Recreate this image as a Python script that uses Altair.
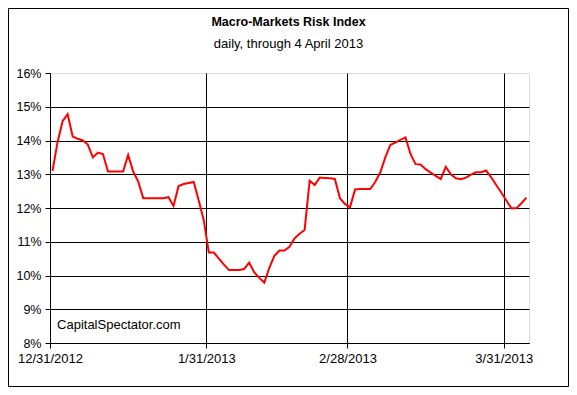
import altair as alt
import pandas as pd

FONT = "Liberation Sans"

start_date = "2012-12-31"
# daily index values (%), Dec 31 2012 .. Apr 4 2013
values = [
    13.10, 13.95, 14.57, 14.78, 14.12, 14.05, 14.00, 13.88, 13.50, 13.64,
    13.60, 13.08, 13.08, 13.08, 13.08, 13.57, 13.08, 12.78, 12.29, 12.29,
    12.29, 12.29, 12.29, 12.32, 12.06, 12.65, 12.71, 12.74, 12.77, 12.22,
    11.64, 10.68, 10.68, 10.50, 10.32, 10.16, 10.16, 10.16, 10.19, 10.38,
    10.10, 9.93, 9.79, 10.23, 10.58, 10.74, 10.74, 10.85, 11.10, 11.24,
    11.35, 12.81, 12.68, 12.90, 12.89, 12.88, 12.86, 12.29, 12.12, 12.02,
    12.55, 12.56, 12.56, 12.56, 12.77, 13.05, 13.50, 13.87, 13.94, 14.02,
    14.09, 13.60, 13.30, 13.29, 13.15, 13.05, 12.95, 12.86, 13.22, 13.00,
    12.88, 12.85, 12.90, 12.99, 13.06, 13.06, 13.11, 12.91, 12.68, 12.46,
    12.22, 11.99, 11.99, 12.14, 12.31,
]
dates = pd.date_range(start_date, periods=len(values), freq="D") + pd.Timedelta(hours=12)

y_ticks = [8, 9, 10, 11, 12, 13, 14, 15, 16]
x_ticks = [(2012, 12, 31), (2013, 1, 31), (2013, 2, 28), (2013, 3, 31)]
x_domain = [(2012, 12, 31), (2013, 4, 5)]

title_text = "Macro-Markets Risk Index"
subtitle_text = "daily, through 4 April 2013"
watermark = "CapitalSpectator.com"

df = pd.DataFrame({"date": dates, "value": values})
wm_df = pd.DataFrame({"date": [pd.Timestamp("2013-01-01T09:30:00")], "value": [8.53], "label": [watermark]})
title_df = pd.DataFrame({"t": [title_text]})
sub_df = pd.DataFrame({"t": [subtitle_text]})
frame_df = pd.DataFrame({"a": [0]})

def dt(t):
    return alt.DateTime(year=t[0], month=t[1], date=t[2])

x_enc = alt.X(
    "date:T",
    scale=alt.Scale(domain=[dt(t) for t in x_domain]),
    axis=alt.Axis(
        values=[dt(t) for t in x_ticks],
        labelExpr="timeFormat(datum.value, '%-m/%-d/%Y')",
        title=None,
        grid=True,
        gridColor="black",
        gridOpacity=1,
        domainColor="black",
        tickColor="black",
        tickSize=5,
        labelPadding=4,
        labelFont=FONT,
        labelFontSize=13,
        labelColor="black",
        labelFlush=False,
        labelOverlap=False,
    ),
)
y_enc = alt.Y(
    "value:Q",
    scale=alt.Scale(domain=[8, 16], nice=False, zero=False),
    axis=alt.Axis(
        values=y_ticks,
        labelExpr="datum.value + '%'",
        title=None,
        grid=True,
        gridColor={"condition": {"test": "datum.value >= 16", "value": "transparent"}, "value": "black"},
        gridOpacity=1,
        domainColor="black",
        tickColor="black",
        tickSize=5,
        labelPadding=4,
        labelFont=FONT,
        labelFontSize=12.5,
        labelColor="black",
        labelOverlap=False,
        labelFlush=False,
    ),
)

line = alt.Chart(df).mark_line(color="#FF0000", strokeWidth=2).encode(x=x_enc, y=y_enc)

wm = alt.Chart(wm_df).mark_text(
    align="left", baseline="middle", font=FONT, fontSize=13, color="black"
).encode(x=x_enc, y=y_enc, text="label:N")

title_mark = alt.Chart(title_df).mark_text(
    align="center", baseline="middle", font=FONT, fontSize=12.5, fontWeight="bold", color="black"
).encode(x=alt.value(238.5), y=alt.value(-51), text="t:N")

sub_mark = alt.Chart(sub_df).mark_text(
    align="center", baseline="middle", font=FONT, fontSize=13, color="black"
).encode(x=alt.value(238.5), y=alt.value(-29), text="t:N")

frame = alt.Chart(frame_df).mark_rect(filled=False, stroke="black", strokeWidth=1).encode(
    x=alt.value(-41.5), x2=alt.value(518.5), y=alt.value(-64.5), y2=alt.value(313.5)
)

chart = alt.layer(line, wm, title_mark, sub_mark, frame).properties(
    width=479,
    height=270,
    padding={"left": 42, "top": 65, "right": 40, "bottom": 44},
    autosize=alt.AutoSizeParams(type="none"),
).configure_axisY(
    tickCount=9
).configure_view(
    stroke="#808080", strokeDash=[1, 2], strokeWidth=1
).configure(background="white")

chart.save("out.html", embed_options={"renderer": "svg", "actions": False})
